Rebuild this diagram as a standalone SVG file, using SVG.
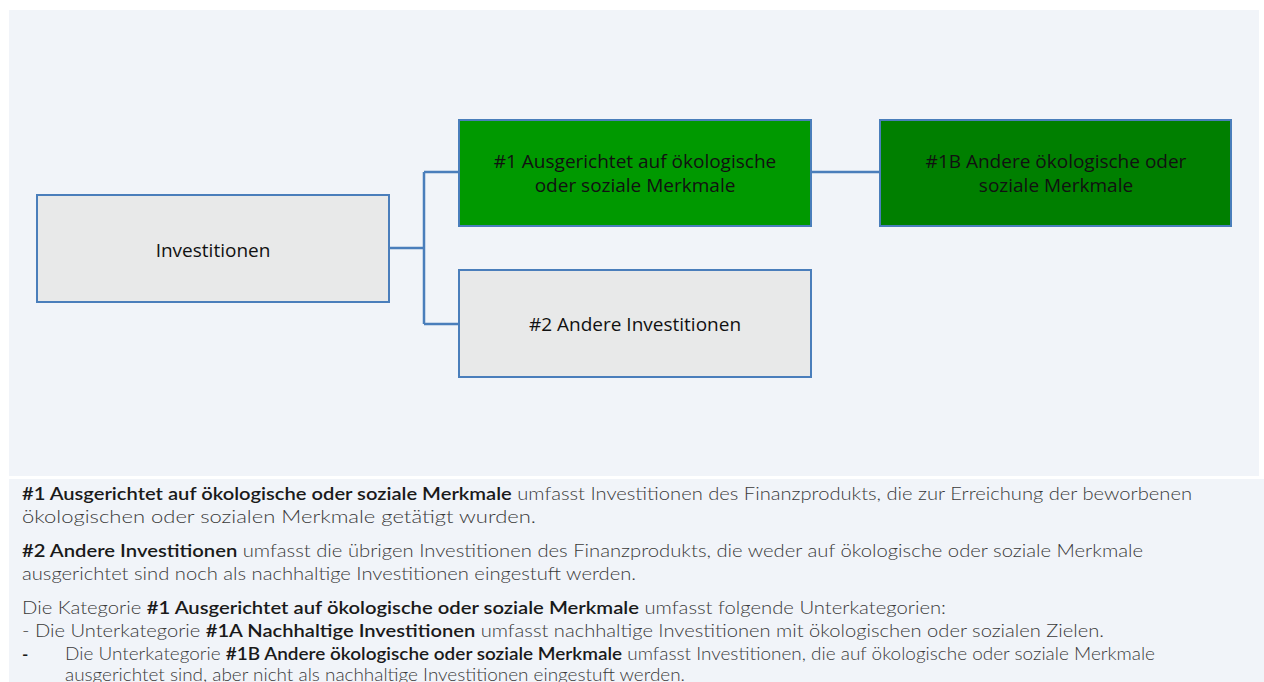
<svg xmlns="http://www.w3.org/2000/svg" width="1264" height="682" viewBox="0 0 1264 682">
<style>
.panel{fill:#F1F4F9}
.box{stroke:#4A7EBB;stroke-width:2}
.gray{fill:#E8E9E9}
.g1{fill:#009900}
.g2{fill:#007F00}
.bt{font-family:"Open Sans","Noto Sans",sans-serif;font-size:19px;fill:#111;text-anchor:middle}
.conn{fill:none;stroke:#4A7EBB;stroke-width:2.5}
.body{font-family:Lato,"Open Sans",sans-serif;font-size:17px;fill:#3a3a3a;font-weight:300}
.b{font-weight:600;fill:#1a1a1a}
</style>
<rect width="1264" height="682" fill="#ffffff"/>
<rect class="panel" x="9" y="10" width="1250" height="466"/>
<rect class="panel" x="9" y="479" width="1255" height="203"/>
<g id="connectors">
<path class="conn" d="M389 248 H424 M424 172 V324 M424 172 H459 M424 324 H459"/>
<path class="conn" d="M811 172 H880"/>
</g>
<g id="node-investitionen">
<rect class="box gray" x="37" y="195" width="352" height="107"/>
<text class="bt" x="213" y="257">Investitionen</text>
</g>
<g id="node-1">
<rect class="box g1" x="459" y="120" width="352" height="106"/>
<text class="bt" x="635" y="168">#1 Ausgerichtet auf ökologische</text>
<text class="bt" x="635" y="192">oder soziale Merkmale</text>
</g>
<g id="node-1b">
<rect class="box g2" x="880" y="120" width="351" height="106"/>
<text class="bt" x="1056" y="168">#1B Andere ökologische oder</text>
<text class="bt" x="1056" y="192">soziale Merkmale</text>
</g>
<g id="node-2">
<rect class="box gray" x="459" y="270" width="352" height="107"/>
<text class="bt" x="635" y="331">#2 Andere Investitionen</text>
</g>
<g id="legend">
<text class="body" x="22" y="500" textLength="1170" lengthAdjust="spacingAndGlyphs"><tspan class="b">#1 Ausgerichtet auf ökologische oder soziale Merkmale</tspan> umfasst Investitionen des Finanzprodukts, die zur Erreichung der beworbenen</text>
<text class="body" x="22" y="523" textLength="514" lengthAdjust="spacingAndGlyphs">ökologischen oder sozialen Merkmale getätigt wurden.</text>
<text class="body" x="22" y="557" textLength="1121" lengthAdjust="spacingAndGlyphs"><tspan class="b">#2 Andere Investitionen</tspan> umfasst die übrigen Investitionen des Finanzprodukts, die weder auf ökologische oder soziale Merkmale</text>
<text class="body" x="22" y="580" textLength="614" lengthAdjust="spacingAndGlyphs">ausgerichtet sind noch als nachhaltige Investitionen eingestuft werden.</text>
<text class="body" x="22" y="614" textLength="924" lengthAdjust="spacingAndGlyphs">Die Kategorie <tspan class="b">#1 Ausgerichtet auf ökologische oder soziale Merkmale</tspan> umfasst folgende Unterkategorien:</text>
<text class="body" x="22" y="637" textLength="1082" lengthAdjust="spacingAndGlyphs">- Die Unterkategorie <tspan class="b">#1A Nachhaltige Investitionen</tspan> umfasst nachhaltige Investitionen mit ökologischen oder sozialen Zielen.</text>
<text class="body b" x="22" y="660">-</text>
<text class="body" x="65" y="660" textLength="1090" lengthAdjust="spacingAndGlyphs">Die Unterkategorie <tspan class="b">#1B Andere ökologische oder soziale Merkmale</tspan> umfasst Investitionen, die auf ökologische oder soziale Merkmale</text>
<text class="body" x="65" y="681" textLength="620" lengthAdjust="spacingAndGlyphs">ausgerichtet sind, aber nicht als nachhaltige Investitionen eingestuft werden.</text>
</g>
</svg>
